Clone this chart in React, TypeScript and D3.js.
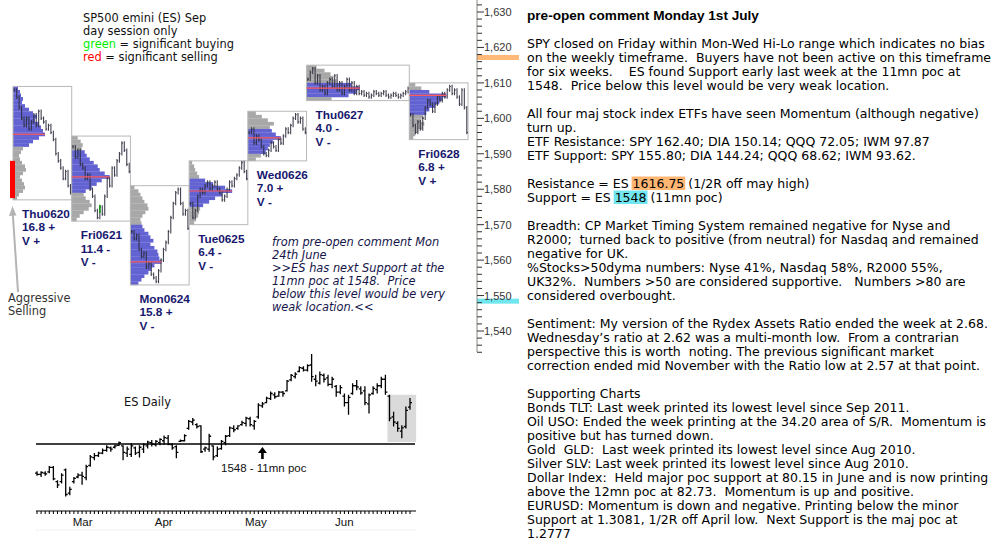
import React, { useLayoutEffect, useRef, useState } from 'react';
import * as d3 from 'd3';

// ---------- Intraday (market profile) data ----------
const dayNames = ['Thu0620', 'Fri0621', 'Mon0624', 'Tue0625', 'Wed0626', 'Thu0627', 'Fri0628'];
const dayRangeText = ['16.8 +', '11.4 -', '15.8 +', '6.4 -', '7.0 +', '4.0 -', '6.8 +'];
const dayVolText = ['V +', 'V -', 'V -', 'V -', 'V -', 'V -', 'V +'];

// price of the top of each profile (1-point bins going down)
const profileTop = [1609, 1595, 1581, 1588, 1602, 1615, 1610];
// TPO counts per 1-point bin, from the top price downward
const profileCounts = [
  [5, 7, 8, 10, 9, 12, 16, 20, 24, 22, 26, 28, 30, 32, 26, 20, 16, 10, 8, 6, 7, 9, 12, 13, 10, 7, 9, 11, 12, 10, 6, 4],
  [6, 9, 11, 10, 13, 15, 18, 22, 26, 28, 33, 38, 30, 25, 20, 14, 12, 14, 18, 20, 17, 12, 8, 5],
  [4, 8, 10, 12, 14, 17, 18, 15, 12, 10, 11, 12, 14, 18, 20, 23, 20, 24, 27, 28, 29, 31, 24, 21, 18, 14, 11, 8],
  [3, 5, 6, 8, 10, 16, 24, 36, 43, 33, 26, 20, 14, 11, 10, 9, 7, 5],
  [8, 14, 20, 26, 22, 24, 28, 33, 25, 22, 20, 18, 13, 8],
  [10, 18, 24, 27, 30, 45, 53, 50, 42, 25],
  [6, 12, 20, 37, 33, 30, 26, 20, 17, 14, 12, 15, 13, 9, 6, 4],
];
const valueAreaHigh = [1609, 1591, 1570, 1583, 1597, 1610, 1608];
const valueAreaLow = [1592, 1579, 1553, 1575, 1590, 1606, 1601];

// intraday price path, evenly spaced through each session
const dayPrices = [
  [1608, 1606, 1603, 1600, 1598, 1600, 1597, 1599, 1601, 1598, 1602, 1600, 1599, 1597, 1598, 1596, 1594, 1590, 1588, 1586, 1583, 1585, 1581, 1579],
  [1592, 1589, 1591, 1587, 1586, 1583, 1584, 1580, 1578, 1574, 1572, 1575, 1573, 1578, 1583, 1581, 1586, 1584, 1588, 1590, 1593, 1591, 1587, 1585],
  [1568, 1566, 1567, 1563, 1561, 1562, 1558, 1559, 1556, 1555, 1554, 1557, 1560, 1563, 1565, 1568, 1572, 1576, 1579, 1580, 1576, 1573, 1574, 1569],
  [1576, 1572, 1574, 1578, 1580, 1579, 1581, 1582, 1580, 1581, 1582, 1580, 1579, 1577, 1578, 1580, 1582, 1581, 1583, 1584, 1586, 1587.5, 1585, 1583],
  [1596, 1597, 1593, 1595, 1594, 1592, 1590, 1589.5, 1591, 1593, 1592, 1591, 1594, 1593, 1595, 1597, 1596, 1598, 1600, 1601, 1599, 1600, 1597, 1596],
  [1611, 1613, 1614, 1610, 1612, 1608, 1609, 1607, 1610, 1611, 1609, 1612, 1608, 1610, 1607, 1609, 1611, 1608, 1610, 1607, 1609, 1607,
    1607.5, 1606.5, 1607, 1606, 1606.5, 1607.5, 1607, 1606.5, 1607, 1607.5, 1606.5, 1606, 1606.5, 1607, 1606.5, 1606, 1606.5, 1607, 1607.5, 1608.5],
  [1601, 1598, 1596, 1599, 1597, 1600, 1603, 1605, 1604, 1602, 1604, 1606, 1605, 1607, 1606, 1608, 1609, 1607, 1608, 1606, 1604, 1608, 1603, 1596],
];
const buySignals = [{ day: 1, idx: 11, lo: 1573.3, hi: 1575.6 }];
const aggressiveSelling = { lo: 1577.5, hi: 1588 };
const resistanceLevel = 1616.75;
const supportLevel = 1548;
const axisLabels = [1630, 1620, 1610, 1600, 1590, 1580, 1570, 1560, 1550, 1540];

// ---------- Daily ES data (Feb 19 .. Jun 28) ----------
const dailyHigh = [1506, 1506, 1506, 1514, 1514, 1492, 1503, 1510, 1482, 1497,
  1503, 1505, 1516, 1531, 1534, 1536, 1541, 1546, 1544, 1547,
  1552, 1546, 1544, 1549, 1544, 1546, 1549, 1553, 1554, 1554,
  1557, 1561, 1562, 1549, 1546, 1555, 1563, 1585, 1588, 1580,
  1577, 1544, 1564, 1546, 1544, 1554, 1562, 1575, 1577, 1577,
  1584, 1590, 1590, 1585, 1611, 1613, 1621, 1629, 1628, 1630,
  1630, 1647, 1656, 1659, 1668, 1668, 1671, 1687, 1655, 1660,
  1657, 1655, 1652, 1639, 1639, 1626, 1624, 1642, 1647, 1637,
  1637, 1626, 1637, 1642, 1652, 1655, 1624, 1598, 1583, 1577,
  1606, 1619];
const dailyLow = [1499, 1497, 1499, 1503, 1492, 1480, 1487, 1467, 1469, 1487,
  1495, 1485, 1492, 1513, 1523, 1528, 1532, 1536, 1536, 1541,
  1545, 1523, 1528, 1528, 1531, 1527, 1534, 1541, 1544, 1544,
  1546, 1547, 1546, 1539, 1526, 1551, 1552, 1570, 1577, 1572,
  1534, 1536, 1536, 1523, 1528, 1539, 1546, 1559, 1566, 1570,
  1576, 1575, 1575, 1570, 1587, 1604, 1611, 1616, 1618, 1621,
  1621, 1629, 1645, 1649, 1659, 1660, 1660, 1644, 1637, 1640,
  1643, 1637, 1634, 1621, 1625, 1606, 1593, 1624, 1631, 1624,
  1608, 1595, 1624, 1626, 1634, 1624, 1583, 1575, 1567, 1557,
  1572, 1601];
const dailyOpen = [1503, 1501, 1503, 1505, 1512, 1490, 1490, 1508, 1472, 1490,
  1497, 1500, 1496, 1515, 1527, 1530, 1534, 1538, 1542, 1543,
  1546, 1545, 1534, 1532, 1542, 1535, 1540, 1545, 1550, 1547,
  1550, 1553, 1557, 1547, 1544, 1552, 1553, 1572, 1582, 1578,
  1576, 1540, 1540, 1545, 1530, 1541, 1550, 1561, 1572, 1572,
  1578, 1580, 1587, 1576, 1590, 1607, 1612, 1618, 1624, 1622,
  1628, 1630, 1647, 1652, 1660, 1665, 1662, 1670, 1648, 1642,
  1654, 1650, 1640, 1637, 1628, 1622, 1612, 1626, 1638, 1633,
  1630, 1610, 1626, 1632, 1638, 1648, 1622, 1590, 1580, 1568,
  1575, 1605];
const dailyClose = [1501, 1504, 1502, 1512, 1494, 1485, 1500, 1470, 1478, 1495,
  1500, 1498, 1513, 1528, 1530, 1534, 1538, 1543, 1540, 1545,
  1550, 1535, 1540, 1545, 1534, 1543, 1547, 1551, 1548, 1552,
  1555, 1558, 1548, 1542, 1535, 1553, 1561, 1583, 1585, 1575,
  1536, 1542, 1560, 1528, 1540, 1552, 1560, 1573, 1570, 1576,
  1581, 1588, 1578, 1583, 1608, 1610, 1619, 1626, 1621, 1628,
  1626, 1645, 1654, 1656, 1666, 1662, 1669, 1652, 1645, 1655,
  1648, 1640, 1648, 1628, 1635, 1612, 1620, 1638, 1636, 1627,
  1612, 1624, 1634, 1638, 1648, 1628, 1588, 1582, 1572, 1573,
  1600, 1612];
const monthLabels = ['Mar', 'Apr', 'May', 'Jun', 'Jul'];
const monthStartIdx = [8, 28, 50, 72, 92];
const lastWeekIdx = [85.5, 92.5];
const lastWeekPrice = [1551, 1624];
const pocArrowIdx = 55;

// ---------- Text ----------
const legendLines = ['SP500 emini (ES) Sep', 'day session only'];
const noteLines = [
  'from pre-open comment Mon',
  '24th June',
  '>>ES has next Support at the',
  '11mn poc at 1548.  Price',
  'below this level would be very',
  'weak location.<<',
];
const commentTitle = 'pre-open comment Monday 1st July';
const resistanceSegments = ['Resistance = ES ', '1616.75', ' (1/2R off may high)'];
const supportSegments = ['Support = ES ', '1548', ' (11mn poc)'];
const commentLines: (string | null)[] = [
  'SPY closed on Friday within Mon-Wed Hi-Lo range which indicates no bias',
  'on the weekly timeframe.  Buyers have not been active on this timeframe',
  'for six weeks.    ES found Support early last week at the 11mn poc at',
  '1548.  Price below this level would be very weak location.',
  '',
  'All four maj stock index ETFs have seen Momentum (although negative)',
  'turn up.',
  'ETF Resistance: SPY 162.40; DIA 150.14; QQQ 72.05; IWM 97.87',
  'ETF Support: SPY 155.80; DIA 144.24; QQQ 68.62; IWM 93.62.',
  '',
  null,
  null,
  '',
  'Breadth: CP Market Timing System remained negative for Nyse and',
  'R2000;  turned back to positive (from neutral) for Nasdaq and remained',
  'negative for UK.',
  '%Stocks>50dyma numbers: Nyse 41%, Nasdaq 58%, R2000 55%,',
  'UK32%.  Numbers >50 are considered supportive.   Numbers >80 are',
  'considered overbought.',
  '',
  'Sentiment: My version of the Rydex Assets Ratio ended the week at 2.68.',
  'Wednesday\u2019s ratio at 2.62 was a multi-month low.  From a contrarian',
  'perspective this is worth  noting. The previous significant market',
  'correction ended mid November with the Ratio low at 2.57 at that point.',
  '',
  'Supporting Charts',
  'Bonds TLT: Last week printed its lowest level since Sep 2011.',
  'Oil USO: Ended the week printing at the 34.20 area of S/R.  Momentum is',
  'positive but has turned down.',
  'Gold  GLD:  Last week printed its lowest level since Aug 2010.',
  'Silver SLV: Last week printed its lowest level since Aug 2010.',
  'Dollar Index:  Held major poc support at 80.15 in June and is now printing',
  'above the 12mn poc at 82.73.  Momentum is up and positive.',
  'EURUSD: Momentum is down and negative. Printing below the minor',
  'Support at 1.3081, 1/2R off April low.  Next Support is the maj poc at',
  '1.2777',
];

const BODY_FONT = 'DejaVu Sans';
const ARIAL = 'Liberation Sans';
const NAVY = '#17176e';
const PRE = { whiteSpace: 'pre' as const };

export default function App() {
  const resRef = useRef<SVGTSpanElement>(null);
  const supRef = useRef<SVGTSpanElement>(null);
  const [hl, setHl] = useState<any[]>([]);

  useLayoutEffect(() => {
    const out = [resRef.current, supRef.current].map((el) => {
      if (!el) return null;
      const b = el.getBBox();
      return { x: b.x, y: b.y, w: b.width, h: b.height };
    });
    setHl(out);
  }, []);

  // intraday scales
  const yI = d3.scaleLinear().domain([1630, 1540]).range([12, 331]);
  const totalPts = d3.sum(dayPrices, (p) => p.length);
  const xI = d3.scaleLinear().domain([0, totalPts]).range([13, 468]);
  const offsets = dayPrices.map((_, i) => d3.sum(dayPrices.slice(0, i), (p) => p.length));
  const tpo = d3.scaleLinear().domain([0, 10]).range([0, 10]);

  // daily scales
  const xD = d3.scaleLinear().domain([0, 91]).range([37, 410]);
  const yD = d3.scaleLinear().domain([1548, 1687]).range([444, 354]);

  const axisX = 477;
  const ticks = d3.range(1534, 1633, 2);

  const days = dayNames.map((name, d) => {
    const s = offsets[d];
    const n = dayPrices[d].length;
    const x0 = xI(s);
    const x1 = xI(s + n);
    const top = profileTop[d];
    const counts = profileCounts[d];
    const bottom = top - counts.length;
    const maxC = d3.max(counts) as number;
    const pocIdx = counts.indexOf(maxC);
    const pocPrice = top - pocIdx - 0.5;
    return { name, d, s, n, x0, x1, top, bottom, counts, maxC, pocPrice };
  });

  const tracePath = (d: number) => {
    const P = dayPrices[d];
    const s = offsets[d];
    let path = '';
    P.forEach((p, i) => {
      const prev = i === 0 ? p : P[i - 1];
      const hi = Math.max(p, prev) + 0.5;
      const lo = Math.min(p, prev) - 0.5;
      const x = xI(s + i + 0.5);
      path += `M${x},${yI(hi)}V${yI(lo)}M${x},${yI(p)}H${x + 1.2}`;
    });
    return path;
  };

  let dailyPath = '';
  dailyHigh.forEach((h, i) => {
    const x = xD(i);
    dailyPath += `M${x},${yD(h)}V${yD(dailyLow[i])}M${x - 2},${yD(dailyOpen[i])}H${x}M${x},${yD(dailyClose[i])}H${x + 2}`;
  });

  const arrowX = xD(pocArrowIdx);
  const lineY = yD(1548);

  return (
    <svg width={1000} height={552} style={{ position: 'absolute', left: 0, top: 0, background: '#fff' }}>
      <rect x={0} y={0} width={1000} height={552} fill="#fff" />

      {/* legend */}
      <g fontFamily={BODY_FONT} fontSize={11.4} fill="#111">
        {legendLines.map((t, i) => (
          <text key={i} x={83} y={21.5 + i * 13} xmlSpace="preserve" style={PRE}>{t}</text>
        ))}
        <text x={83} y={21.5 + 2 * 13} xmlSpace="preserve" style={PRE}>
          <tspan fill="#00ee00">green</tspan> = significant buying
        </text>
        <text x={83} y={21.5 + 3 * 13} xmlSpace="preserve" style={PRE}>
          <tspan fill="#ff0000">red</tspan> = significant selling
        </text>
      </g>

      {/* profiles */}
      {days.map((day) => (
        <g key={day.name}>
          {day.counts.map((c, k) => {
            const hiP = day.top - k;
            const mid = hiP - 0.5;
            const inVA = mid >= valueAreaLow[day.d] && mid <= valueAreaHigh[day.d];
            return (
              <rect
                key={k}
                x={day.x0}
                y={yI(hiP)}
                width={tpo(c)}
                height={yI(hiP - 1) - yI(hiP) + 0.2}
                fill={inVA ? '#6262d2' : '#a8a8a8'}
              />
            );
          })}
          <rect
            x={day.x0}
            y={yI(day.top)}
            width={day.x1 - day.x0}
            height={yI(day.bottom) - yI(day.top)}
            fill="none"
            stroke="#b8b8b8"
            strokeWidth={1}
          />
          <path d={tracePath(day.d)} stroke="#2e2e3e" strokeWidth={1.1} fill="none" opacity={0.9} />
          <line
            x1={day.x0}
            x2={day.x0 + tpo(day.maxC)}
            y1={yI(day.pocPrice)}
            y2={yI(day.pocPrice)}
            stroke="#ff5a5a"
            strokeWidth={1.2}
          />
          <g fontFamily={ARIAL} fontWeight="bold" fontSize={11.8} fill={NAVY}>
            <text x={day.x0 + 9} y={yI(day.bottom) + 18}>{day.name}</text>
            <text x={day.x0 + 9} y={yI(day.bottom) + 31.5}>{dayRangeText[day.d]}</text>
            <text x={day.x0 + 9} y={yI(day.bottom) + 45}>{dayVolText[day.d]}</text>
          </g>
        </g>
      ))}

      {buySignals.map((b, i) => {
        const x = xI(offsets[b.day] + b.idx + 0.5);
        return <line key={i} x1={x} x2={x} y1={yI(b.hi)} y2={yI(b.lo)} stroke="#00a000" strokeWidth={1.4} />;
      })}

      {/* aggressive selling */}
      <rect x={xI(0) - 3} y={yI(aggressiveSelling.hi)} width={5} height={yI(aggressiveSelling.lo) - yI(aggressiveSelling.hi)} fill="#ff0000" />
      <line x1={18} y1={292} x2={12.8} y2={214} stroke="#b4b4b4" strokeWidth={2} />
      <path d="M12.5,206 L9,216 L16.5,215.5 Z" fill="#b4b4b4" />
      <g fontFamily={BODY_FONT} fontSize={11.4} fill="#333">
        <text x={8} y={302}>Aggressive</text>
        <text x={8} y={315}>Selling</text>
      </g>

      {/* note */}
      <g fontFamily={BODY_FONT} fontStyle="italic" fontSize={11.4} fill="#16164a">
        {noteLines.map((t, i) => (
          <text key={i} x={272} y={245.5 + i * 13} xmlSpace="preserve" style={PRE}>{t}</text>
        ))}
      </g>

      {/* right price axis */}
      <rect x={axisX} y={yI(resistanceLevel) - 4} width={42} height={5} fill="#ffb877" />
      <rect x={axisX} y={yI(supportLevel) - 4} width={42} height={5} fill="#6fe6ee" />
      <line x1={axisX} x2={axisX} y1={0} y2={352} stroke="#8a8a80" strokeWidth={1} />
      {ticks.map((t) => (
        <line key={t} x1={axisX} x2={axisX + (t % 10 === 0 ? 7 : 5)} y1={yI(t)} y2={yI(t)} stroke="#333" strokeWidth={1} />
      ))}
      <g fontFamily={ARIAL} fontSize={11} fill="#333">
        {axisLabels.map((t) => (
          <text key={t} x={484} y={yI(t)} dominantBaseline="central">{d3.format(',')(t)}</text>
        ))}
      </g>

      {/* daily chart */}
      <rect
        x={xD(lastWeekIdx[0])}
        y={yD(lastWeekPrice[1])}
        width={xD(lastWeekIdx[1]) - xD(lastWeekIdx[0])}
        height={yD(lastWeekPrice[0]) - yD(lastWeekPrice[1])}
        fill="#dadada"
      />
      <line x1={36} x2={415} y1={lineY} y2={lineY} stroke="#000" strokeWidth={1.3} />
      <path d={dailyPath} stroke="#000" strokeWidth={1.3} fill="none" />
      <text x={124} y={406} fontFamily={BODY_FONT} fontSize={11.4} fill="#111">ES Daily</text>
      <path d={`M${arrowX},${lineY + 3} L${arrowX - 4.5},${lineY + 9} L${arrowX + 4.5},${lineY + 9} Z`} fill="#000" />
      <line x1={arrowX} x2={arrowX} y1={lineY + 8} y2={lineY + 15} stroke="#000" strokeWidth={2.6} />
      <text x={221} y={472} fontFamily={ARIAL} fontSize={11.5} fill="#111">1548 - 11mn poc</text>

      <line x1={36} x2={416} y1={511} y2={511} stroke="#000" strokeWidth={1} />
      {dailyHigh.map((_, i) => (
        <line key={i} x1={xD(i)} x2={xD(i)} y1={511} y2={514} stroke="#000" strokeWidth={1} />
      ))}
      <clipPath id="monthClip">
        <rect x={30} y={500} width={387} height={40} />
      </clipPath>
      <g fontFamily={ARIAL} fontSize={11.5} fill="#111" clipPath="url(#monthClip)">
        {monthLabels.map((m, i) => (
          <text key={m} x={xD(monthStartIdx[i]) + 3} y={526}>{m}</text>
        ))}
      </g>
      <line x1={36} x2={416} y1={530} y2={530} stroke="#e4e4e4" strokeWidth={1} strokeDasharray="1 1" />

      {/* comment text */}
      {hl[0] && <rect x={hl[0].x - 1} y={hl[0].y + 0.5} width={hl[0].w + 2} height={hl[0].h - 1.5} fill="#ffb672" />}
      {hl[1] && <rect x={hl[1].x - 1} y={hl[1].y + 0.5} width={hl[1].w + 2} height={hl[1].h - 1.5} fill="#72e6f0" />}
      <text x={527} y={20} fontFamily={ARIAL} fontWeight="bold" fontSize={13.6} fill="#000" xmlSpace="preserve" style={PRE}>
        {commentTitle}
      </text>
      <g fontFamily={BODY_FONT} fontSize={12.5} fill="#000">
        {commentLines.map((t, i) => {
          const y = 48 + i * 14;
          if (t === null) {
            const segs = i === 10 ? resistanceSegments : supportSegments;
            return (
              <text key={i} x={527} y={y} xmlSpace="preserve" style={PRE}>
                {segs[0]}
                <tspan ref={i === 10 ? resRef : supRef}>{segs[1]}</tspan>
                {segs[2]}
              </text>
            );
          }
          return (
            <text key={i} x={527} y={y} xmlSpace="preserve" style={PRE}>{t}</text>
          );
        })}
      </g>
    </svg>
  );
}
